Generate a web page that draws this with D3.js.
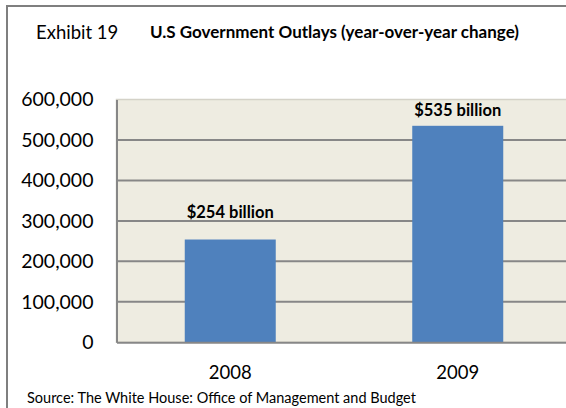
<!DOCTYPE html>
<html>
<head>
<meta charset="utf-8">
<script src="https://cdn.jsdelivr.net/npm/d3@7/dist/d3.min.js"></script>
<style>
  html, body { margin: 0; padding: 0; background: #ffffff; }
  svg { display: block; font-family: Lato, "Open Sans", sans-serif; }
</style>
</head>
<body>
<svg id="chart" width="566" height="408"></svg>
<script>
// U.S. government outlays, year-over-year change ($ millions)
const years = ["2008", "2009"];
const outlayChange = [254000, 535000];
const valueLabels = ["$254 billion", "$535 billion"];
const yTicks = [0, 100000, 200000, 300000, 400000, 500000, 600000];

const svg = d3.select("#chart");
const W = 566, H = 408;

// outer chart frame (only left and top edges fall inside the view)
svg.append("rect")
  .attr("x", 7).attr("y", 6)
  .attr("width", W + 20).attr("height", H + 20)
  .attr("fill", "#ffffff")
  .attr("stroke", "#7f7f7f").attr("stroke-width", 2);

// titles
svg.append("text")
  .attr("x", 36).attr("y", 39)
  .attr("font-size", 18.5).attr("fill", "#000")
  .text("Exhibit 19");
svg.append("text")
  .attr("x", 150).attr("y", 38)
  .attr("font-size", 17).attr("font-weight", "bold").attr("fill", "#000")
  .text("U.S Government Outlays (year-over-year change)");

// plot area
const plot = { left: 116.5, right: 571.5, top: 99.5, bottom: 342.3 };

const x = d3.scaleBand()
  .domain(years)
  .range([plot.left, plot.right])
  .paddingInner(0.6)
  .paddingOuter(0.3);

const y = d3.scaleLinear()
  .domain([0, 600000])
  .range([plot.bottom, plot.top]);

svg.append("rect")
  .attr("x", plot.left).attr("y", plot.top)
  .attr("width", plot.right - plot.left).attr("height", plot.bottom - plot.top)
  .attr("fill", "#eeece1")
  .attr("stroke", "#d4d2c8").attr("stroke-width", 1.5);

// horizontal gridlines
svg.append("g")
  .selectAll("line")
  .data(yTicks.filter(d => d > 0 && d < 600000))
  .join("line")
  .attr("x1", plot.left).attr("x2", plot.right)
  .attr("y1", d => y(d)).attr("y2", d => y(d))
  .attr("stroke", "#878787").attr("stroke-width", 2);

// bars
svg.append("g")
  .selectAll("rect")
  .data(years)
  .join("rect")
  .attr("x", d => x(d))
  .attr("width", x.bandwidth())
  .attr("y", (d, i) => y(outlayChange[i]))
  .attr("height", (d, i) => y(0) - y(outlayChange[i]))
  .attr("fill", "#4f81bd");

// value labels above bars
const labelLift = [22, 10];
svg.append("g")
  .selectAll("text")
  .data(years)
  .join("text")
  .attr("x", d => x(d) + x.bandwidth() / 2)
  .attr("y", (d, i) => y(outlayChange[i]) - labelLift[i])
  .attr("text-anchor", "middle")
  .attr("font-size", 16.5).attr("font-weight", "bold").attr("fill", "#000")
  .text((d, i) => valueLabels[i]);

// y axis
const yAxis = d3.axisLeft(y)
  .tickValues(yTicks)
  .tickSize(0)
  .tickPadding(23)
  .tickFormat(d3.format(","));
const yg = svg.append("g")
  .attr("transform", `translate(${plot.left},0)`)
  .call(yAxis);
yg.select(".domain").attr("stroke", "#878787").attr("stroke-width", 2);
yg.selectAll("text")
  .attr("font-family", "Lato, 'Open Sans', sans-serif")
  .attr("font-size", 19.5).attr("fill", "#000");

// x axis
const xAxis = d3.axisBottom(x).tickSize(0).tickPadding(24);
const xg = svg.append("g")
  .attr("transform", `translate(0,${plot.bottom})`)
  .call(xAxis);
xg.select(".domain").attr("stroke", "#878787").attr("stroke-width", 2);
xg.selectAll("text")
  .attr("font-family", "Lato, 'Open Sans', sans-serif")
  .attr("font-size", 18.5).attr("fill", "#000");

// source note
svg.append("text")
  .attr("x", 27).attr("y", 403)
  .attr("font-size", 14.5).attr("fill", "#000")
  .text("Source: The White House: Office of Management and Budget");
</script>
</body>
</html>
